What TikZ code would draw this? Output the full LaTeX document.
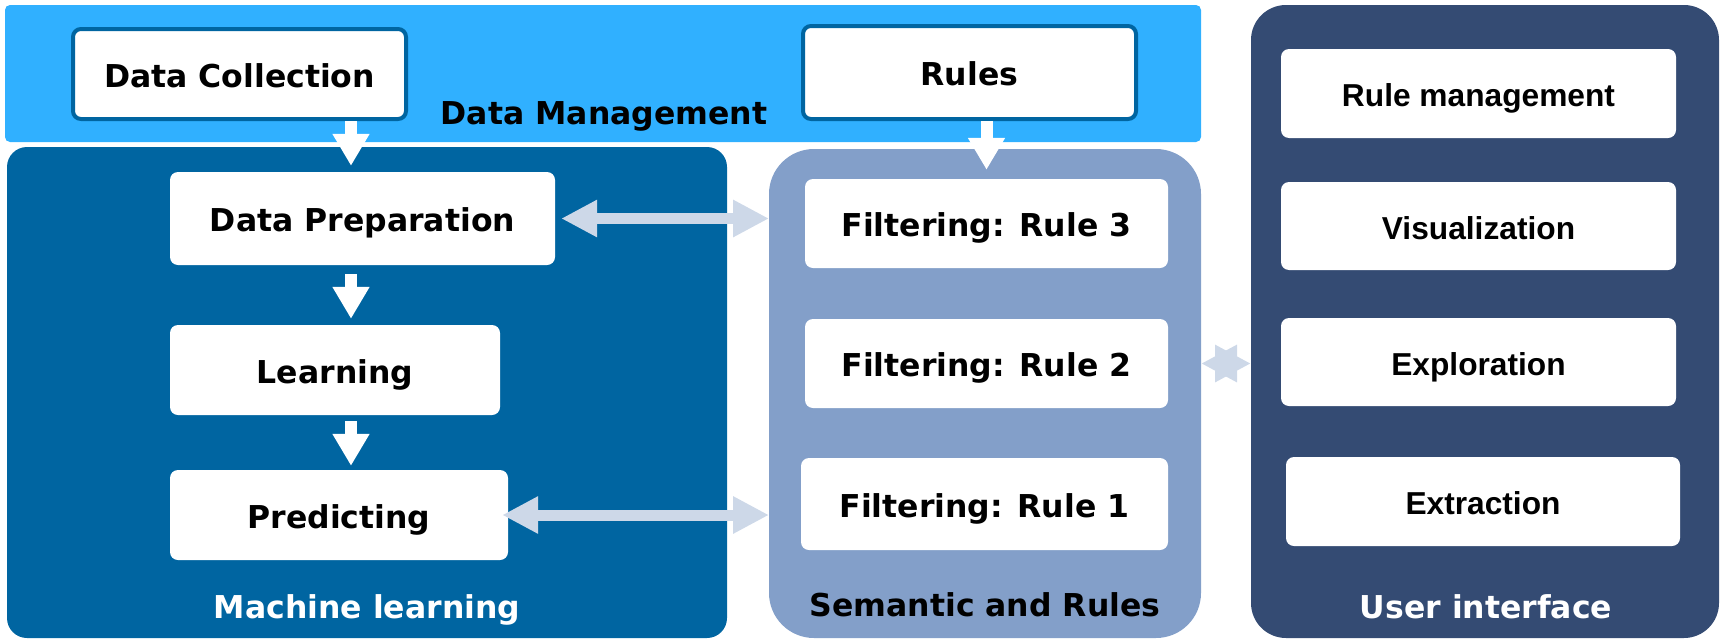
\documentclass[tikz,border=0pt]{standalone}
\usepackage{fontspec}
\setmainfont{DejaVu Sans}
\newfontfamily\uifont{Liberation Sans}
\usetikzlibrary{positioning, arrows.meta}

\definecolor{dmblue}{RGB}{48,176,255}
\definecolor{mlblue}{RGB}{0,101,161}
\definecolor{semblue}{RGB}{131,159,201}
\definecolor{uiblue}{RGB}{52,75,115}
\definecolor{linkgray}{RGB}{205,216,232}

\begin{document}
\begin{tikzpicture}[x=1pt, y=-1pt,
    panel/.style={rectangle, inner sep=0pt, outer sep=0pt},
    box/.style={rectangle, rounded corners=8pt, fill=white, inner sep=0pt,
      text height=26pt, text depth=0pt,
      font=\fontsize{31.5}{36}\selectfont\bfseries},
    srcbox/.style={box, draw=mlblue, line width=4pt},
    uibox/.style={box, font=\fontsize{31.7}{36}\selectfont\uifont\bfseries},
    title/.style={anchor=base, font=\fontsize{31.5}{36}\selectfont\bfseries},
    down/.style={-{Triangle[length=32pt,width=35pt]}, white, line width=12pt},
    link/.style={{Triangle[length=36pt,width=35pt]}-{Triangle[length=36pt,width=35pt]},
      linkgray, line width=11pt}]
  \useasboundingbox (0,0) rectangle (1721,640);

  % Panels
  \node[panel, fill=dmblue, rounded corners=5pt, minimum width=1196pt, minimum height=137pt] (dm) at (603,73.5) {};
  \node[panel, fill=mlblue, rounded corners=20pt, minimum width=720pt, minimum height=491pt] (ml) at (367,392.5) {};
  \node[panel, fill=semblue, rounded corners=45pt, minimum width=432pt, minimum height=489pt] (sem) at (985,393.5) {};
  \node[panel, fill=uiblue, rounded corners=35pt, minimum width=468pt, minimum height=633pt] (ui) at (1485,321.5) {};

  % Panel titles
  \node[title] (dmtitle) at (604,124) {Data Management};
  \node[title, white] (mltitle) at (367,618) {Machine learning};
  \node[title] (semtitle) at (985,616) {Semantic and Rules};
  \node[title, white] (uititle) at (1486,618) {User interface};

  % --- DATA MANAGEMENT ---
  \node[srcbox, minimum width=333pt, minimum height=90pt] (collect) at (239.5,74) {Data Collection};
  \node[srcbox, minimum width=333pt, minimum height=93pt] (rules) at (969.5,72.5) {Rules};

  % --- MACHINE LEARNING ---
  \node[box, minimum width=385pt, minimum height=93pt] (prep) at (362.5,218.5) {Data Preparation};
  \node[box, minimum width=330pt, minimum height=90pt] (learn) at (335,370) {Learning};
  \node[box, minimum width=338pt, minimum height=90pt] (predict) at (339,515) {Predicting};

  % --- SEMANTIC AND RULES ---
  \node[box, minimum width=363pt, minimum height=89pt] (rule3) at (986.5,223.5) {Filtering: Rule 3};
  \node[box, minimum width=363pt, minimum height=89pt] (rule2) at (986.5,363.5) {Filtering: Rule 2};
  \node[box, minimum width=367pt, minimum height=92pt] (rule1) at (984.5,504) {Filtering: Rule 1};

  % --- USER INTERFACE ---
  \node[uibox, minimum width=395pt, minimum height=89pt] (rulemgmt) at (1478.5,93.5) {Rule management};
  \node[uibox, minimum width=395pt, minimum height=88pt] (visual) at (1478.5,226) {Visualization};
  \node[uibox, minimum width=395pt, minimum height=88pt] (explore) at (1478.5,362) {Exploration};
  \node[uibox, minimum width=394pt, minimum height=89pt] (extract) at (1483,501.5) {Extraction};

  % Flow arrows
  \coordinate (col) at (351,0);
  \draw[down, shorten >=6pt] (collect.south -| col) -- (prep.north -| col);
  \draw[down, shorten <=9pt, shorten >=6pt] (prep.south -| col) -- (learn.north -| col);
  \draw[down, shorten <=6pt, shorten >=4pt] (learn.south -| col) -- (predict.north -| col);
  \draw[down, shorten >=9pt] (rules.south -| rule3) -- (rule3.north);

  % Links between panels
  \draw[link] ([xshift=6pt]prep.east) -- (prep.east -| sem.west);
  \draw[link] ([xshift=-6pt]predict.east) -- (predict.east -| sem.west);
  \draw[link] (sem.east |- rule2) -- (ui.west |- rule2);
\end{tikzpicture}
\end{document}
